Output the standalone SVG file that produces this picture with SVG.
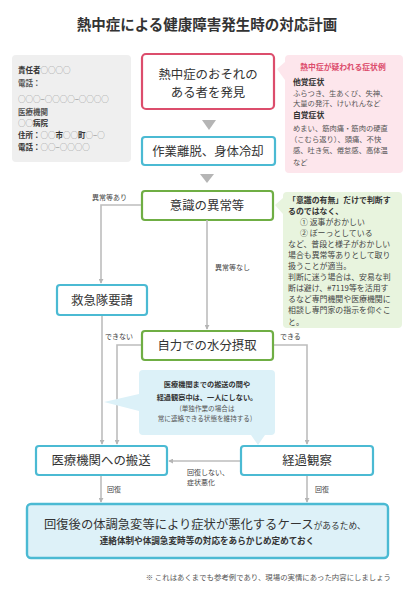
<svg xmlns="http://www.w3.org/2000/svg" width="411" height="600" viewBox="0 0 411 600">
<defs>
<marker id="ah" viewBox="0 0 6 6" refX="5" refY="3" markerWidth="5" markerHeight="5" orient="auto" markerUnits="userSpaceOnUse">
<path d="M0,0 L6,3 L0,6 z" fill="#b5b5b5"/>
</marker>
<style>
text{font-family:"Noto Sans CJK JP","Noto Sans",sans-serif;fill:#333}
.box{fill:#fff;stroke-width:2.2}
.pk{stroke:#dc4d6c}
.cy{stroke:#4bbad3}
.gr{stroke:#6fae44}
.bt{font-size:12.4px;text-anchor:middle}
.ln{fill:none;stroke:#bdbdbd;stroke-width:1.6}
.lb{font-size:7px;fill:#444}
.sm{font-size:7.5px;fill:#555}
.b{font-weight:bold}
.g{fill:#888;font-weight:normal}
</style>
</defs>
<rect width="411" height="600" fill="#fff"/>
<text x="207" y="30" font-size="14.5" font-weight="bold" text-anchor="middle">熱中症による健康障害発生時の対応計画</text>

<g id="contact">
<rect x="12" y="55" width="119" height="107" rx="4" fill="#efefef"/>
<text class="sm" x="18" y="73"><tspan class="b" fill="#333">責任者</tspan><tspan class="g">○○○○</tspan></text>
<text class="sm b" x="18" y="86" fill="#333">電話：</text>
<text class="sm g" x="18" y="102">○○○−○○○○−○○○○</text>
<text class="sm b" x="18" y="115" fill="#333">医療機関</text>
<text class="sm" x="18" y="126" font-size="7"><tspan class="g">○○</tspan><tspan class="b" fill="#333">病院</tspan></text>
<text class="sm" x="18" y="138" font-size="7"><tspan class="b" fill="#333">住所：</tspan><tspan class="g">○○</tspan><tspan class="b" fill="#333">市</tspan><tspan class="g">○○</tspan><tspan class="b" fill="#333">町</tspan><tspan class="g">○−○</tspan></text>
<text class="sm" x="18" y="150" font-size="7"><tspan class="b" fill="#333">電話：</tspan><tspan class="g">○○−○○○○</tspan></text>
</g>

<g id="symptoms">
<path d="M285,59 Q285,55 289,55 L399,55 Q403,55 403,59 L403,169 Q403,173 399,173 L289,173 Q285,173 285,169 L285,80 L277,69 L285,62 Z" fill="#fde6ec"/>
<text x="343" y="70" font-size="7.8" font-weight="bold" text-anchor="middle" style="fill:#dc4d6c">熱中症が疑われる症状例</text>
<text x="293" y="85" font-size="7.8" font-weight="bold">他覚症状</text>
<text x="293" y="96" font-size="7.3" style="fill:#555">ふらつき、生あくび、失神、</text>
<text x="293" y="106" font-size="7.3" style="fill:#555">大量の発汗、けいれんなど</text>
<text x="293" y="118" font-size="7.8" font-weight="bold">自覚症状</text>
<text x="293" y="131" font-size="7.3" style="fill:#555">めまい、筋肉痛・筋肉の硬直</text>
<text x="290" y="142" font-size="7.3" style="fill:#555">（こむら返り）、頭痛、不快</text>
<text x="293" y="153" font-size="7.3" style="fill:#555">感、吐き気、倦怠感、高体温</text>
<text x="293" y="165" font-size="7.3" style="fill:#555">など</text>
</g>

<g id="discover">
<rect class="box pk" x="142" y="54" width="132" height="55" rx="4"/>
<text class="bt" x="208" y="79">熱中症のおそれの</text>
<text class="bt" x="208" y="97">ある者を発見</text>
</g>
<path d="M202,120 L216,120 L209,130 Z" fill="#b5b5b5"/>
<g id="cool">
<rect class="box cy" x="142" y="137" width="133" height="28" rx="3"/>
<text class="bt" x="208" y="156">作業離脱、身体冷却</text>
</g>
<path d="M200,174 L214,174 L207,183 Z" fill="#b5b5b5"/>

<g id="consciousness">
<rect class="box gr" x="142" y="191" width="131" height="29" rx="3"/>
<text class="bt" x="207" y="210">意識の異常等</text>
</g>

<g id="note-green">
<path d="M283,196 Q283,192 287,192 L398,192 Q402,192 402,196 L402,324 Q402,328 398,328 L287,328 Q283,328 283,324 L283,214 L275,205 L283,198 Z" fill="#e8f4de"/>
<g font-size="7.9">
<text x="288" y="203" font-weight="bold">「意識の有無」だけで判断す</text>
<text x="288" y="214" font-weight="bold">るのではなく、</text>
<text x="300" y="225" style="fill:#444">① 返事がおかしい</text>
<text x="300" y="236" style="fill:#444">② ぼーっとしている</text>
<text x="288" y="247" style="fill:#444">など、普段と様子がおかしい</text>
<text x="288" y="258" style="fill:#444">場合も異常等ありとして取り</text>
<text x="288" y="269" style="fill:#444">扱うことが適当。</text>
<text x="288" y="280" style="fill:#444">判断に迷う場合は、安易な判</text>
<text x="288" y="291" style="fill:#444">断は避け、#7119等を活用す</text>
<text x="288" y="302" style="fill:#444">るなど専門機関や医療機関に</text>
<text x="288" y="313" style="fill:#444">相談し専門家の指示を仰ぐこ</text>
<text x="288" y="325" style="fill:#444">と。</text>
</g>
</g>

<g id="connectors">
<path class="ln" d="M141,205 L101,205 L101,283" marker-end="url(#ah)"/>
<path class="ln" d="M207,220 L207,329" marker-end="url(#ah)"/>
<path class="ln" d="M102,315 L102,444" marker-end="url(#ah)"/>
<path class="ln" d="M142,345 L117,345 L117,444" marker-end="url(#ah)"/>
<path class="ln" d="M273,345 L307,345 L307,444" marker-end="url(#ah)"/>
<path class="ln" d="M241,461 L169,461" marker-end="url(#ah)"/>
<path class="ln" d="M101,475 L101,502" marker-end="url(#ah)"/>
<path class="ln" d="M307,475 L307,502" marker-end="url(#ah)"/>
<text class="lb" x="92" y="200">異常等あり</text>
<text class="lb" x="215" y="270">異常等なし</text>
<text class="lb" x="105" y="339">できない</text>
<text class="lb" x="280" y="339">できる</text>
<text class="lb" x="187" y="475">回復しない、</text>
<text class="lb" x="187" y="485">症状悪化</text>
<text class="lb" x="107" y="492">回復</text>
<text class="lb" x="315" y="492">回復</text>
</g>

<g id="ambulance">
<rect class="box cy" x="57" y="285" width="90" height="30" rx="3"/>
<text class="bt" x="102" y="305">救急隊要請</text>
</g>

<g id="water">
<rect class="box gr" x="142" y="331" width="131" height="29" rx="3"/>
<text class="bt" x="207" y="350">自力での水分摂取</text>
</g>

<g id="note-blue">
<path d="M143,370 L271,370 Q275,370 275,374 L275,431 Q275,435 271,435 L265,435 L258,445 L251,435 L143,435 Q139,435 139,431 L139,411 L104,402 L139,394 L139,374 Q139,370 143,370 Z" fill="#dcf1f8"/>
<text x="207" y="387" font-size="7.2" font-weight="bold" text-anchor="middle">医療機関までの搬送の間や</text>
<text x="207" y="400" font-size="7.2" font-weight="bold" text-anchor="middle">経過観察中は、一人にしない。</text>
<text x="207" y="411" font-size="6.6" text-anchor="middle" style="fill:#555">(単独作業の場合は</text>
<text x="205" y="421" font-size="6.6" text-anchor="middle" style="fill:#555">常に連絡できる状態を維持する)</text>
</g>

<g id="transport">
<rect class="box cy" x="36" y="446" width="131" height="29" rx="3"/>
<text class="bt" x="101" y="465">医療機関への搬送</text>
</g>

<g id="observe">
<rect class="box cy" x="241" y="446" width="132" height="29" rx="3"/>
<text class="bt" x="307" y="465">経過観察</text>
</g>

<g id="final">
<rect x="27" y="504" width="361" height="54" rx="4" fill="#ddf1f8" stroke="#4bbad3" stroke-width="2.4"/>
<text x="44" y="529"><tspan font-size="12.3">回復後の体調急変等により症状が悪化するケース</tspan><tspan font-size="8.7">があるため、</tspan></text>
<text x="207" y="544" font-size="8.6" font-weight="bold" text-anchor="middle">連絡体制や体調急変時等の対応をあらかじめ定めておく</text>
</g>

<text x="391" y="580" font-size="7.4" text-anchor="end" style="fill:#555">※ これはあくまでも参考例であり、現場の実情にあった内容にしましょう</text>
</svg>
